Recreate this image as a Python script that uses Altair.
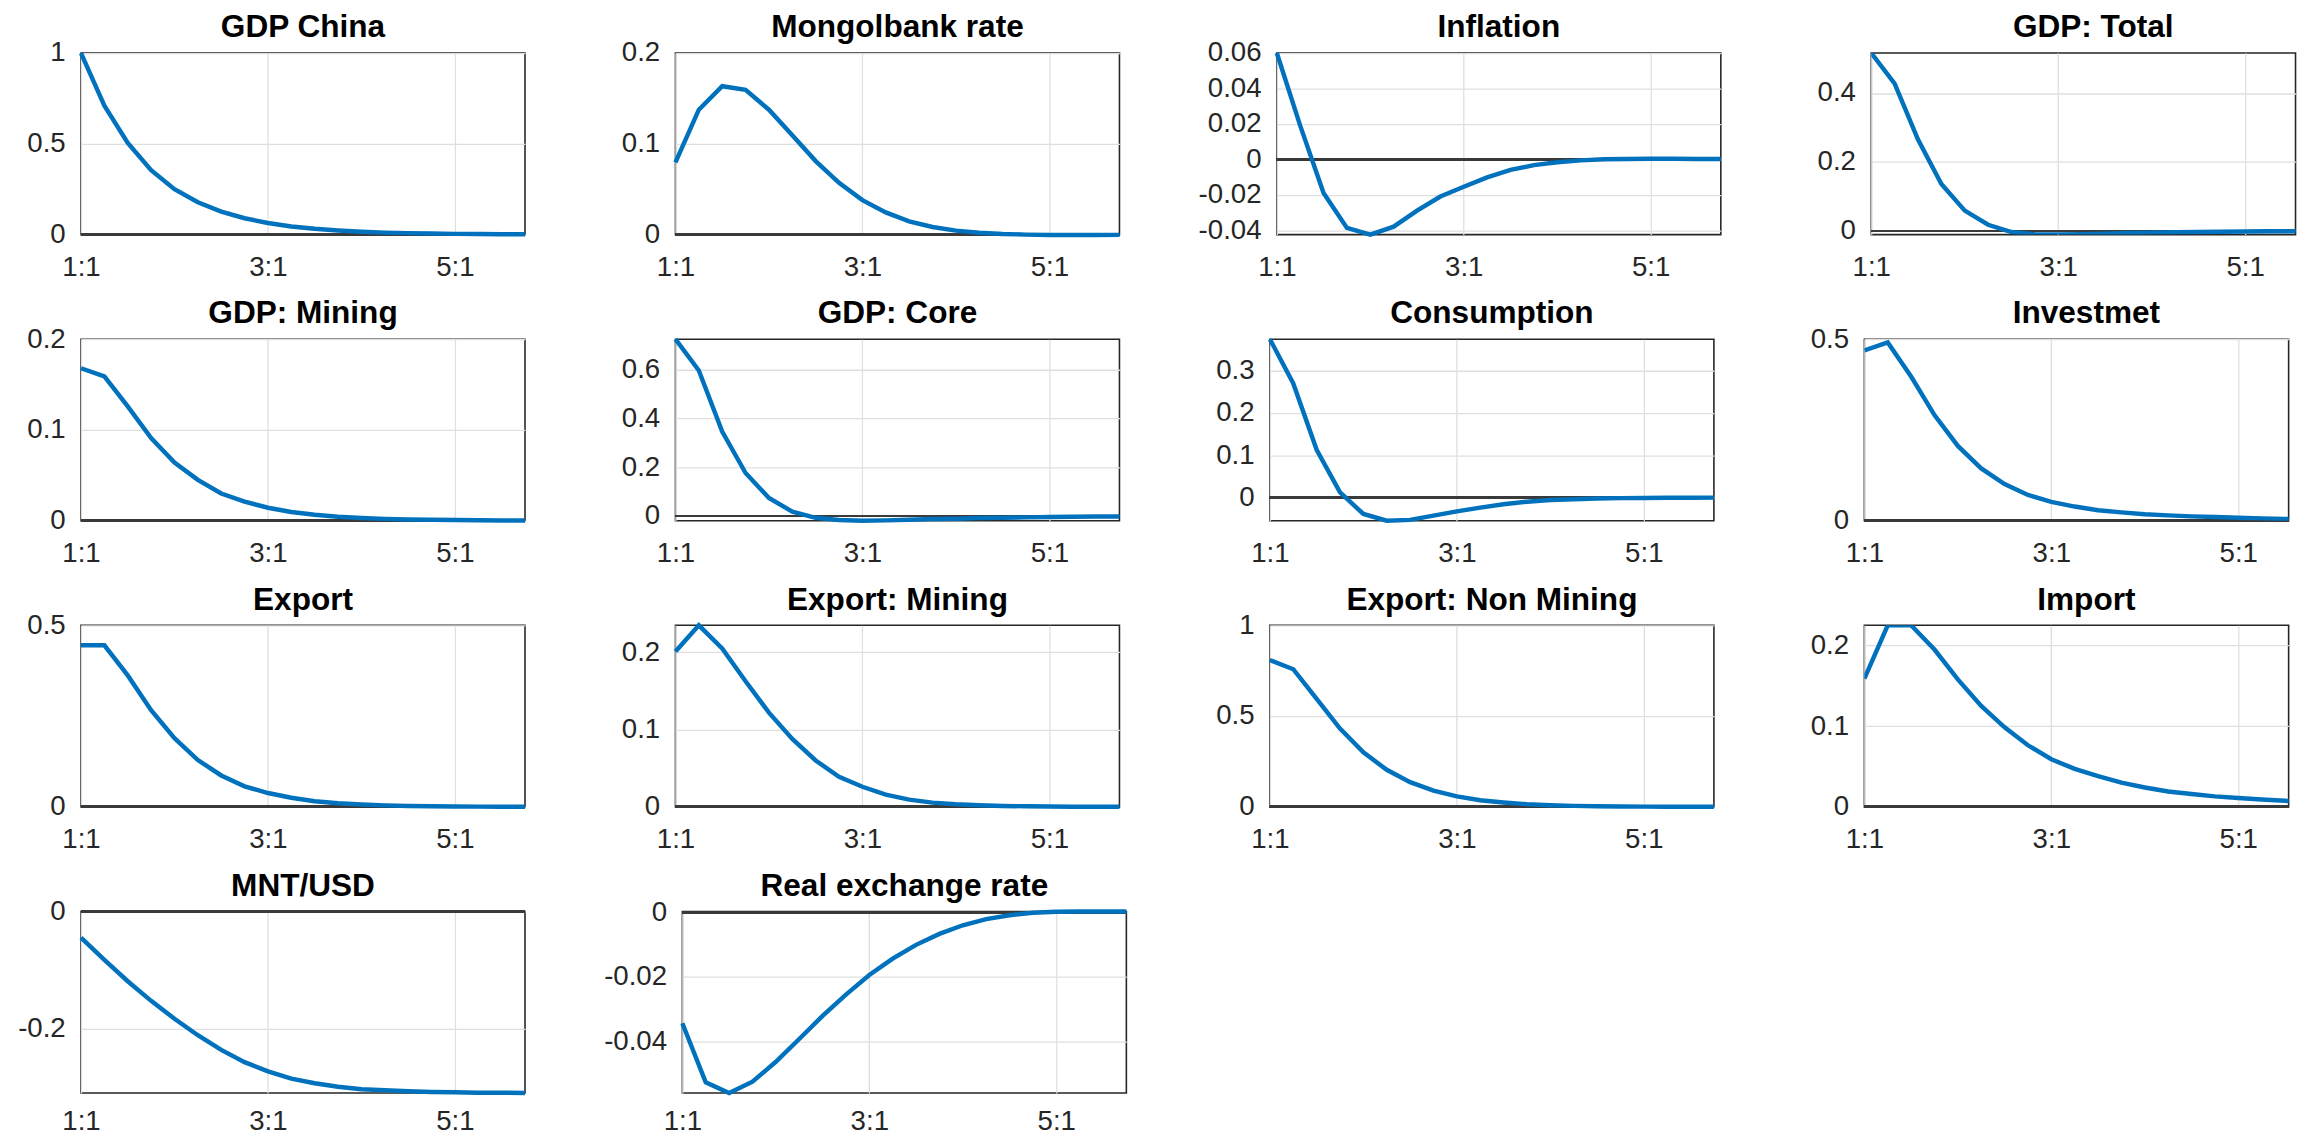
import altair as alt
import pandas as pd

# ---------------- data ----------------
quarters = list(range(20))          # 1:1 ... 5:4
x_tick_values = [0, 8, 16]
x_tick_labels = ["1:1", "3:1", "5:1"]

titles = [
    "GDP China", "Mongolbank rate", "Inflation", "GDP: Total",
    "GDP: Mining", "GDP: Core", "Consumption", "Investmet",
    "Export", "Export: Mining", "Export: Non Mining", "Import",
    "MNT/USD", "Real exchange rate",
]

gdp_china = [1.0, 0.71, 0.505, 0.355, 0.25, 0.178, 0.127, 0.09, 0.064, 0.045,
             0.032, 0.023, 0.016, 0.011, 0.008, 0.006, 0.004, 0.003, 0.002, 0.0015]
mongolbank = [0.0796, 0.1376, 0.1635, 0.1595, 0.1376, 0.1095, 0.081, 0.057, 0.038, 0.0245,
              0.0146, 0.0084, 0.0044, 0.002, 0.0007, 0.0, -0.0004, -0.0005, -0.0004, -0.0003]
inflation = [0.06, 0.019, -0.019, -0.0387, -0.0425, -0.038, -0.029, -0.021, -0.0155, -0.0102,
             -0.006, -0.0033, -0.0017, -0.0006, 0.0, 0.0002, 0.0003, 0.0003, 0.0002, 0.0002]
gdp_total = [0.516, 0.427, 0.265, 0.136, 0.059, 0.018, -0.003, -0.0095, -0.0105, -0.0095,
             -0.0076, -0.0057, -0.0048, -0.0038, -0.0029, -0.002, -0.0015, -0.001, -0.0007, -0.0005]
gdp_mining = [0.168, 0.159, 0.126, 0.091, 0.064, 0.045, 0.030, 0.021, 0.0143, 0.0096,
              0.0066, 0.0044, 0.003, 0.002, 0.0014, 0.001, 0.0007, 0.0005, 0.0003, 0.0002]
gdp_core = [0.723, 0.595, 0.345, 0.176, 0.074, 0.018, -0.007, -0.016, -0.019, -0.0176,
            -0.015, -0.012, -0.011, -0.008, -0.0068, -0.0054, -0.004, -0.003, -0.002, -0.0015]
consumption = [0.375, 0.27, 0.113, 0.012, -0.039, -0.055, -0.053, -0.043, -0.033, -0.024,
               -0.016, -0.010, -0.006, -0.004, -0.0023, -0.0015, -0.001, -0.0006, -0.0004, -0.0003]
investment = [0.469, 0.491, 0.397, 0.291, 0.206, 0.144, 0.101, 0.071, 0.052, 0.039,
              0.029, 0.023, 0.018, 0.0147, 0.012, 0.010, 0.008, 0.0065, 0.005, 0.004]
export = [0.445, 0.445, 0.362, 0.266, 0.189, 0.129, 0.0865, 0.0565, 0.038, 0.025,
          0.0155, 0.010, 0.0064, 0.004, 0.0025, 0.0015, 0.001, 0.0006, 0.0004, 0.0002]
export_mining = [0.201, 0.235, 0.205, 0.1625, 0.122, 0.088, 0.060, 0.039, 0.026, 0.0157,
                 0.0094, 0.0055, 0.0034, 0.002, 0.0012, 0.0007, 0.0004, 0.0002, 0.0001, 0.0001]
export_nonmining = [0.809, 0.758, 0.595, 0.431, 0.30, 0.204, 0.136, 0.089, 0.058, 0.036,
                    0.024, 0.0145, 0.009, 0.0055, 0.0035, 0.002, 0.0013, 0.0008, 0.0005, 0.0003]
imports = [0.159, 0.225, 0.225, 0.195, 0.158, 0.125, 0.0986, 0.0763, 0.059, 0.047,
           0.038, 0.030, 0.024, 0.019, 0.016, 0.013, 0.011, 0.009, 0.0075, 0.006]
mnt_usd = [-0.0447, -0.0827, -0.119, -0.1525, -0.183, -0.211, -0.236, -0.257, -0.2726, -0.285,
           -0.293, -0.299, -0.303, -0.305, -0.3067, -0.3078, -0.3084, -0.309, -0.309, -0.3095]
real_exchange = [-0.0344, -0.0528, -0.0561, -0.0526, -0.0464, -0.0393, -0.0321, -0.0255, -0.0194, -0.0143,
                 -0.010, -0.0066, -0.0039, -0.002, -0.0008, 0.0, 0.0003, 0.0004, 0.0004, 0.0004]

series = [gdp_china, mongolbank, inflation, gdp_total,
          gdp_mining, gdp_core, consumption, investment,
          export, export_mining, export_nonmining, imports,
          mnt_usd, real_exchange]

y_domains = [
    [0, 1], [0, 0.2], [-0.0425, 0.06], [-0.0105, 0.516],
    [0, 0.2], [-0.019, 0.723], [-0.055, 0.375], [0, 0.5],
    [0, 0.5], [0, 0.235], [0, 1], [0, 0.225],
    [-0.3095, 0], [-0.0561, 0.0004],
]
y_ticks = [
    [0, 0.5, 1], [0, 0.1, 0.2], [-0.04, -0.02, 0, 0.02, 0.04, 0.06], [0, 0.2, 0.4],
    [0, 0.1, 0.2], [0, 0.2, 0.4, 0.6], [0, 0.1, 0.2, 0.3], [0, 0.5],
    [0, 0.5], [0, 0.1, 0.2], [0, 0.5, 1], [0, 0.1, 0.2],
    [-0.2, 0], [-0.04, -0.02, 0],
]

# ---------------- styling / layout ----------------
FONT = "Liberation Sans"
W, H = 450, 184
W_LAST = 430          # right-most column is cut by the page edge in the reference
Y_EXT = 73
X_EXT = 42
LINE_COLOR = "#0072BD"
TEXT_COLOR = "#262626"
GRID_COLOR = "#dfdfdf"

x_label_expr = "'" + x_tick_labels[-1] + "'"
for v, lab in reversed(list(zip(x_tick_values[:-1], x_tick_labels[:-1]))):
    x_label_expr = f"datum.value == {v} ? '{lab}' : ({x_label_expr})"


def panel(title, vals, dom, ticks, width, x_pad):
    df = pd.DataFrame({"q": quarters, "v": vals})
    x_end = quarters[-1] * width / W
    x_scale = alt.Scale(domain=[quarters[0], x_end], nice=False, zero=False)
    x_axis = alt.Axis(values=x_tick_values, labelExpr=x_label_expr, title=None,
                      grid=True, domain=False, ticks=False, labelFlush=False,
                      labelOverlap=False, labelPadding=x_pad, minExtent=X_EXT, maxExtent=X_EXT,
                      labelFontSize=28, labelFont=FONT, labelColor=TEXT_COLOR,
                      gridColor=GRID_COLOR, gridWidth=1.3)
    y_scale = alt.Scale(domain=dom, nice=False, zero=False)
    y_axis = alt.Axis(values=ticks, labelExpr="'' + datum.value", title=None,
                      grid=True, domain=False, ticks=False, labelFlush=False,
                      labelOverlap=False, labelPadding=16, minExtent=Y_EXT, maxExtent=Y_EXT,
                      labelFontSize=28, labelFont=FONT, labelColor=TEXT_COLOR,
                      gridColor=GRID_COLOR, gridWidth=1.3)

    zero = alt.Chart(df).mark_rule(color="#3a3a3a", strokeWidth=2).encode(
        y=alt.YDatum(0, scale=y_scale, axis=y_axis, title=None)
    )
    line = alt.Chart(df).mark_line(color=LINE_COLOR, strokeWidth=4.5,
                                   clip=width < W).encode(
        x=alt.X("q:Q", scale=x_scale, axis=x_axis, title=None),
        y=alt.Y("v:Q", scale=y_scale, axis=y_axis, title=None),
    )
    head = alt.Chart(pd.DataFrame({"t": [title]})).mark_text(
        font=FONT, fontSize=32, fontWeight="bold", color="black",
        align="center", baseline="alphabetic",
    ).encode(text="t:N", x=alt.value(W / 2), y=alt.value(-16))
    return alt.layer(zero, line, head).properties(width=width, height=H)


n_rows = (len(titles) + 3) // 4
panels = []
for i, (t, s, d, tk) in enumerate(zip(titles, series, y_domains, y_ticks)):
    width = W_LAST if i % 4 == 3 else W
    x_pad = 15 if i // 4 == n_rows - 1 else 19
    panels.append(panel(t, s, d, tk, width, x_pad))

rows = [alt.hconcat(*panels[i:i + 4], spacing=68.5) for i in range(0, len(panels), 4)]

chart = alt.vconcat(*rows, spacing=15).properties(
    padding={"left": 0, "top": -5, "right": 0, "bottom": -4}
).configure_view(stroke="#262626", strokeWidth=1.6)

chart.save("out.html", embed_options={"renderer": "svg", "actions": False})
